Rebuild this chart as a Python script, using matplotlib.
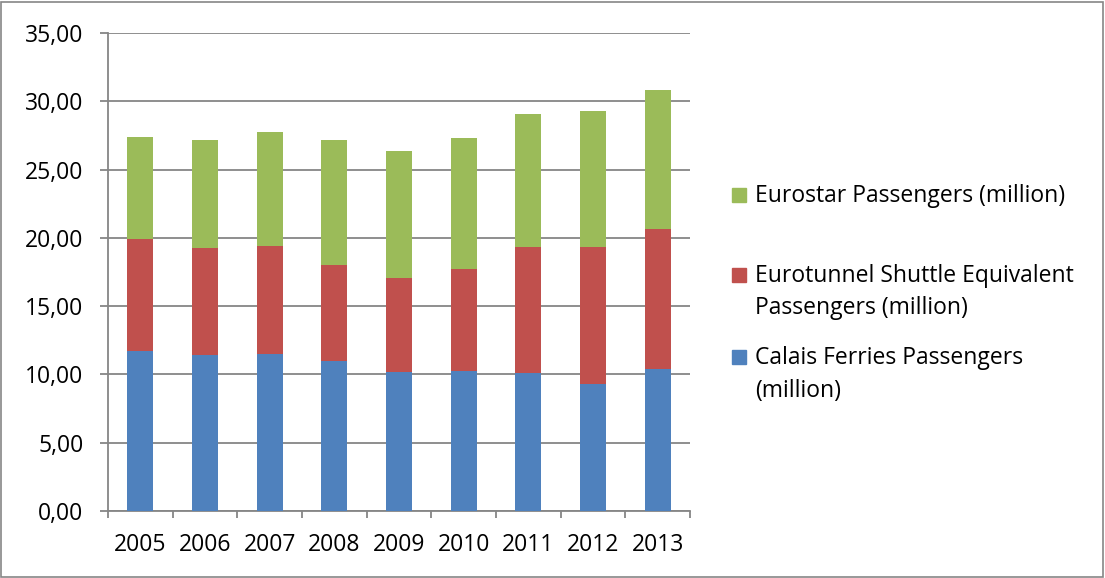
import matplotlib.pyplot as plt
import numpy as np
from matplotlib.patches import Rectangle

years = ["2005", "2006", "2007", "2008", "2009", "2010", "2011", "2012", "2013"]
calais = [11.69, 11.44, 11.52, 10.98, 10.18, 10.23, 10.08, 9.32, 10.37]
eurotunnel = [8.20, 7.84, 7.90, 7.01, 6.90, 7.51, 9.27, 10.03, 10.30]
eurostar = [7.49, 7.86, 8.30, 9.15, 9.27, 9.54, 9.71, 9.93, 10.17]

colors = ["#4f81bd", "#c0504d", "#9bbb59"]

plt.rcParams['font.family'] = ['Open Sans', 'DejaVu Sans']
W, H = 1105, 578
FS = 16.5

fig = plt.figure(figsize=(W / 100, H / 100), dpi=100)
ax = fig.add_axes([108 / W, 1 - 511 / H, 582 / W, 478 / H])

x = np.arange(len(years))
bottom = np.zeros(len(years))
for vals, c in zip([calais, eurotunnel, eurostar], colors):
    ax.bar(x, vals, 0.40, bottom=bottom, color=c, zorder=3)
    bottom = bottom + np.array(vals)

ax.set_xlim(-0.5, len(years) - 0.5)
ax.set_ylim(0, 35)
yt = np.arange(0, 36, 5)
ax.set_yticks(yt)
ax.set_yticklabels([("%.2f" % v).replace(".", ",") for v in yt])
ax.yaxis.grid(True, color="#868686", linewidth=1.3, zorder=0)
ax.set_xticks(x)
ax.set_xticklabels(years)
ax.set_xticks(np.arange(-0.5, len(years), 1), minor=True)
ax.tick_params(axis="x", which="major", length=0, pad=16, labelsize=FS)
ax.tick_params(axis="x", which="minor", length=5, color="#868686", width=1.3)
ax.tick_params(axis="y", length=5.8, color="#868686", width=1.3, labelsize=FS, pad=12)

for s in ["top", "right"]:
    ax.spines[s].set_visible(False)
for s in ["left", "bottom"]:
    ax.spines[s].set_color("#868686")
    ax.spines[s].set_linewidth(1.3)

# legend, drawn by hand to follow the Excel layout
legend_items = [
    (colors[2], ["Eurostar Passengers (million)"], 202),
    (colors[1], ["Eurotunnel Shuttle Equivalent", "Passengers (million)"], 281.5),
    (colors[0], ["Calais Ferries Passengers", "(million)"], 364),
]
for c, lines, base in legend_items:
    fig.patches.append(Rectangle((732 / W, 1 - base / H), 14 / W, 14 / H,
                                 transform=fig.transFigure, color=c))
    for i, line in enumerate(lines):
        fig.text(755 / W, 1 - (base + 33 * i) / H, line, fontsize=FS,
                 va="baseline", ha="left")

fig.patches.append(Rectangle((0.001, 0.002), 0.997, 0.995, transform=fig.transFigure,
                             fill=False, edgecolor="#868686", linewidth=1.2))

fig.savefig("out.png", dpi=100)
